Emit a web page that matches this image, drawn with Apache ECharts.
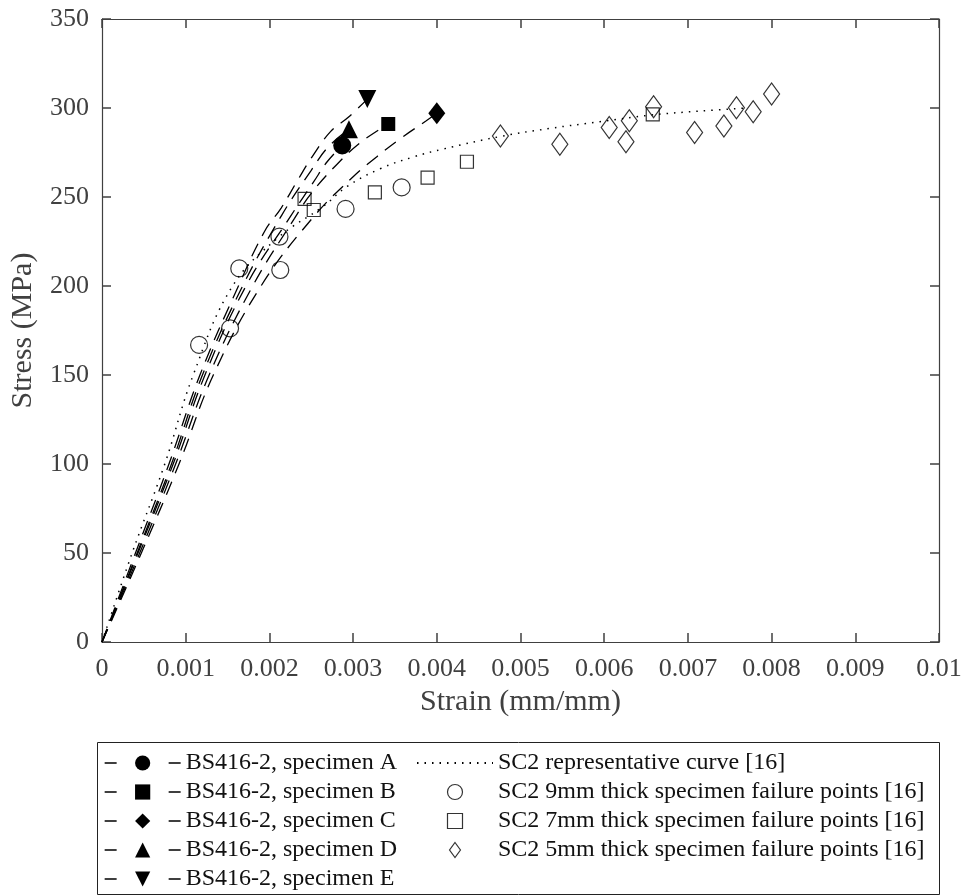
<!DOCTYPE html>
<html>
<head>
<meta charset="utf-8">
<script src="https://cdn.jsdelivr.net/npm/echarts@6/dist/echarts.min.js"></script>
<style>
html, body { margin: 0; padding: 0; background: #fff; }
#Stress { width: 965px; height: 896px; }
</style>
</head>
<body>
<div id="Stress"></div>
<script>
// 坐标轴刻度
var xTickLabels = ['0', '0.001', '0.002', '0.003', '0.004', '0.005', '0.006', '0.007', '0.008', '0.009', '0.01'];
var yTickLabels = ['0', '50', '100', '150', '200', '250', '300', '350'];

// BS416-2 试件曲线 [strain, stress]
var specA = [[0, 0], [0.00043, 50], [0.00085, 100], [0.00123, 150], [0.00172, 200], [0.00225, 239], [0.00253, 258.6], [0.00269, 269.8], [0.00287, 279]];
var specB = [[0, 0], [0.00045, 50], [0.00088, 100], [0.00128, 150], [0.0018, 200], [0.0023, 238], [0.0025, 252], [0.0028, 268], [0.0031, 281], [0.00342, 291]];
var specC = [[0, 0], [0.00047, 50], [0.00092, 100], [0.00133, 150], [0.0019, 200], [0.00253, 239], [0.00301, 261.8], [0.00328, 272.5], [0.00357, 283], [0.00387, 292.7], [0.004, 297]];
var specD = [[0, 0], [0.00042, 50], [0.00083, 100], [0.0012, 150], [0.00168, 200], [0.00215, 240], [0.0025, 265], [0.0027, 278], [0.00295, 288]];
var specE = [[0, 0], [0.0004, 50], [0.0008, 100], [0.00117, 150], [0.00163, 200], [0.00194, 230.5], [0.00214, 243.8], [0.00234, 259.6], [0.00251, 272.6], [0.00273, 286.7], [0.00295, 295.1], [0.00317, 305]];

// SC2 代表曲线
var repCurve = [[0, 0], [0.00036, 50], [0.00075, 100], [0.00109, 150], [0.00156, 200], [0.0021, 227], [0.00265, 245], [0.00293, 256], [0.00333, 266], [0.00372, 272.5], [0.00408, 277], [0.00476, 284], [0.00536, 288.6], [0.00595, 292.3], [0.00655, 296], [0.00715, 298.3], [0.0077, 300]];

// 失效点
var pts9mm = [[0.00116, 166.9], [0.00153, 176.2], [0.00164, 209.9], [0.00212, 227.7], [0.00213, 209], [0.00291, 243.3], [0.00358, 255.4]];
var pts7mm = [[0.00242, 248.9], [0.00253, 242.7], [0.00326, 252.6], [0.00389, 260.9], [0.00436, 269.8], [0.00658, 296.4]];
var pts5mm = [[0.00476, 284.3], [0.00547, 279.6], [0.00606, 289.1], [0.0063, 292.9], [0.00626, 281.1], [0.00659, 300.7], [0.00708, 286.3], [0.00743, 289.9], [0.00758, 300.2], [0.00778, 297.9], [0.008, 307.9]];

var FONT = 'Liberation Serif';
var AXIS = '#404040';

// 只在曲线末端显示标记
function endMarked(arr) {
  return arr.map(function (p, i) {
    return i === arr.length - 1 ? { value: p } : { value: p, symbol: 'none' };
  });
}

function specSeries(name, arr, symbol, size, rotate) {
  return {
    name: name,
    type: 'line',
    data: endMarked(arr),
    smooth: 0.4,
    symbol: symbol,
    symbolSize: size,
    symbolRotate: rotate || 0,
    showAllSymbol: true,
    itemStyle: { color: '#000' },
    lineStyle: { color: '#000', width: 1.3, type: [14, 9] },
    z: 3
  };
}

function hollowSeries(name, arr, symbol, size) {
  return {
    name: name,
    type: 'scatter',
    data: arr,
    symbol: symbol,
    symbolSize: size,
    itemStyle: { color: 'rgba(0,0,0,0)', borderColor: '#000', borderWidth: 1.2 },
    z: 4
  };
}

function axisX(pos, showLabel) {
  return {
    type: 'value',
    position: pos,
    min: 0,
    max: 0.01,
    interval: 0.001,
    name: showLabel ? 'Strain (mm/mm)' : '',
    nameLocation: 'middle',
    nameGap: 40,
    nameTextStyle: { fontFamily: FONT, fontSize: 30, color: AXIS },
    axisLine: { show: true, onZero: false, lineStyle: { color: AXIS, width: 1.2 } },
    axisTick: { show: true, inside: true, length: 9, lineStyle: { color: AXIS, width: 1.5 } },
    axisLabel: {
      show: showLabel,
      margin: 14,
      fontFamily: FONT,
      fontSize: 26,
      color: AXIS,
      formatter: function (v, i) { return xTickLabels[i]; }
    },
    splitLine: { show: false }
  };
}

function axisY(pos, showLabel) {
  return {
    type: 'value',
    position: pos,
    min: 0,
    max: 350,
    interval: 50,
    name: showLabel ? 'Stress (MPa)' : '',
    nameLocation: 'middle',
    nameGap: 64,
    nameTextStyle: { fontFamily: FONT, fontSize: 30, color: AXIS },
    axisLine: { show: true, onZero: false, lineStyle: { color: AXIS, width: 1.2 } },
    axisTick: { show: true, inside: true, length: 9, lineStyle: { color: AXIS, width: 1.5 } },
    axisLabel: {
      show: showLabel,
      margin: 13,
      fontFamily: FONT,
      fontSize: 26,
      color: AXIS,
      formatter: function (v, i) { return yTickLabels[i]; }
    },
    splitLine: { show: false }
  };
}

var diamondTall = 'path://M0,-11 L8,0 L0,11 L-8,0 Z';
var squareIcon = 'path://M0,0 L10,0 L10,10 L0,10 Z';

var Stress = echarts.init(document.getElementById('Stress'));
Stress.setOption({
  animation: false,
  backgroundColor: '#fff',
  grid: { left: 101, right: 26, top: 19, bottom: 254 },
  xAxis: [axisX('bottom', true), axisX('top', false)],
  yAxis: [axisY('left', true), axisY('right', false)],
  legend: [
    {
      orient: 'vertical',
      left: 104,
      top: 751,
      padding: 0,
      itemWidth: 76,
      itemHeight: 19,
      itemGap: 5,
      textStyle: { fontFamily: FONT, fontSize: 24, color: '#111' },
      lineStyle: { type: [12, 52], width: 1.3 },
      data: ['BS416-2, specimen A', 'BS416-2, specimen B', 'BS416-2, specimen C', 'BS416-2, specimen D', 'BS416-2, specimen E']
    },
    {
      orient: 'vertical',
      left: 416,
      top: 751,
      padding: 0,
      itemWidth: 76,
      itemHeight: 15,
      itemGap: 5,
      textStyle: { fontFamily: FONT, fontSize: 24, color: '#111' },
      itemStyle: { borderWidth: 1.2 },
      data: [
        { name: 'SC2 representative curve [16]', itemStyle: { opacity: 0 } },
        { name: 'SC2 9mm thick specimen failure points [16]' },
        { name: 'SC2 7mm thick specimen failure points [16]', icon: squareIcon },
        { name: 'SC2 5mm thick specimen failure points [16]' }
      ]
    }
  ],
  graphic: [
    {
      type: 'rect',
      shape: { x: 97.5, y: 742.5, width: 842, height: 152 },
      style: { fill: 'none', stroke: '#222', lineWidth: 1 },
      silent: true
    }
  ],
  series: [
    specSeries('BS416-2, specimen A', specA, 'circle', 18),
    specSeries('BS416-2, specimen B', specB, 'rect', 14),
    specSeries('BS416-2, specimen C', specC, diamondTall, [17, 22]),
    specSeries('BS416-2, specimen D', specD, 'triangle', 18),
    specSeries('BS416-2, specimen E', specE, 'triangle', 18, 180),
    {
      name: 'SC2 representative curve [16]',
      type: 'line',
      data: repCurve,
      smooth: 0.4,
      symbol: 'none',
      itemStyle: { color: '#000' },
      lineStyle: { color: '#000', width: 1.5, type: [1.5, 6] },
      z: 2
    },
    hollowSeries('SC2 9mm thick specimen failure points [16]', pts9mm, 'circle', 17),
    hollowSeries('SC2 7mm thick specimen failure points [16]', pts7mm, 'rect', 13),
    hollowSeries('SC2 5mm thick specimen failure points [16]', pts5mm, diamondTall, [16, 22])
  ]
});
</script>
</body>
</html>
